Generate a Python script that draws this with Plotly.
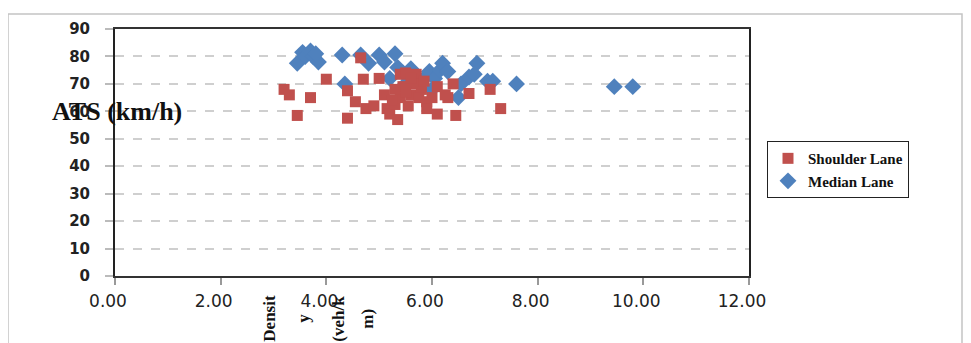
import plotly.graph_objects as go

# Median lane (blue diamonds)
median_x = [3.45, 3.55, 3.6, 3.7, 3.75, 3.85, 3.8, 4.3, 4.35, 4.65, 4.8, 5.0, 5.1, 5.3, 5.2,
            5.35, 5.45, 5.6, 5.7, 5.85, 5.95, 6.05, 6.15, 6.2, 6.3, 6.5, 6.55, 6.7, 6.85, 6.8,
            7.05, 7.15, 7.6, 9.45, 9.8, 5.5, 5.75, 6.0]
median_y = [77.5, 81.5, 80, 82, 80, 78, 81, 80.5, 70, 80.5, 77.5, 80.5, 78, 81, 72,
            76, 74, 75.5, 73, 72, 74.5, 72, 75, 77.5, 74.5, 65, 70, 72.5, 77.5, 73.5,
            71, 71, 70, 69, 69, 70, 71, 68]

# Shoulder lane (red squares)
shoulder_x = [3.2, 3.3, 3.45, 3.7, 4.0, 4.4, 4.4, 4.65, 4.7, 4.55, 4.75, 5.0, 5.1, 4.9, 5.15,
              5.2, 5.35, 5.4, 5.5, 5.7, 5.45, 5.6, 5.4, 5.8, 5.3, 5.9, 5.9, 6.1, 6.1, 6.3,
              6.4, 6.45, 6.7, 7.1, 7.3, 5.25, 5.55, 5.65, 5.75, 5.3, 5.5, 5.6, 5.85, 6.25, 6.0]
shoulder_y = [68, 66, 58.5, 65, 71.7, 67.5, 57.5, 79.5, 71.7, 63.5, 61, 72, 66, 62, 61,
              59, 57, 73.5, 74, 73.5, 69, 66, 65, 68, 62.5, 63.5, 61, 69, 59, 65,
              70, 58.5, 66.5, 68, 61, 64, 62, 70, 65, 68, 67, 72, 71, 66, 65]

x_ticks = [0, 2, 4, 6, 8, 10, 12]
y_ticks = [0, 10, 20, 30, 40, 50, 60, 70, 80, 90]
x_title_lines = ["Densit", "y", "(veh/k", "m)"]
y_title = "ATS (km/h)"

fig = go.Figure()
fig.add_trace(go.Scatter(
    x=median_x, y=median_y, mode="markers", name="Median Lane",
    legendrank=2, legendgroup="m",
    marker=dict(symbol="diamond", size=13, color="#4F81BD", line=dict(width=0))))
fig.add_trace(go.Scatter(
    x=shoulder_x, y=shoulder_y, mode="markers", name="Shoulder Lane",
    legendrank=1, legendgroup="s",
    marker=dict(symbol="square", size=11, color="#C0504D", line=dict(width=0))))

OFF = 8  # page body margin
W, H = 971 - OFF, 343 - OFF
L, T = 115 - OFF, 27 - OFF
pw, ph = 634, 249
R, B = W - L - pw, H - T - ph

def px(xp):
    return (xp - OFF - L) / pw

def py(yp):
    return (H - B - (yp - OFF)) / ph

annotations = [dict(text="<b>" + y_title + "</b>", x=px(50), y=py(110), xref="paper", yref="paper",
                    xanchor="left", yanchor="middle", showarrow=False,
                    font=dict(family="Liberation Serif", size=26, color="#111"))]
for xpix, line in zip([270, 304, 339, 368], x_title_lines):
    annotations.append(dict(text="<b>" + line + "</b>", x=px(xpix), y=py(319), xref="paper", yref="paper",
                            xanchor="center", yanchor="middle", showarrow=False, textangle=-90,
                            font=dict(family="Liberation Serif", size=17, color="#111")))

fig.update_layout(
    width=W, height=H,
    margin=dict(l=L, r=R, t=T, b=B),
    paper_bgcolor="white", plot_bgcolor="white",
    showlegend=True,
    legend=dict(x=px(767), y=py(140), xanchor="left", yanchor="top",
                bordercolor="#222", borderwidth=1, bgcolor="white",
                tracegroupgap=0, traceorder="grouped", itemwidth=30,
                font=dict(family="Liberation Serif", size=15, color="#111", weight="bold")),
    annotations=annotations,
    shapes=[dict(type="rect", xref="paper", yref="paper",
                 x0=px(8), x1=px(962), y0=py(360), y1=py(12),
                 line=dict(color="#c4c4c4", width=1.5), layer="below")],
)
fig.update_xaxes(range=[0, 12], tickvals=x_ticks, ticktext=["%.2f" % v for v in x_ticks],
                 showgrid=False, zeroline=False, showline=True, linecolor="#333", linewidth=2,
                 mirror=True, ticks="outside", ticklen=7, tickcolor="#999", tickwidth=1.5,
                 ticklabelstandoff=2, ticklabelshift=-7,
                 tickfont=dict(family="DejaVu Sans", size=17, color="#222"))
fig.update_yaxes(range=[0, 90], tickvals=y_ticks,
                 showgrid=True, gridcolor="#cfcfcf", gridwidth=2, griddash="dash",
                 zeroline=False, showline=True, linecolor="#222", linewidth=2,
                 mirror=True, ticks="outside", ticklen=8, tickcolor="#bbb", tickwidth=2,
                 ticklabelstandoff=12,
                 tickfont=dict(family="DejaVu Sans", size=15, color="#222", weight="bold"))

fig.write_html("out.html")
